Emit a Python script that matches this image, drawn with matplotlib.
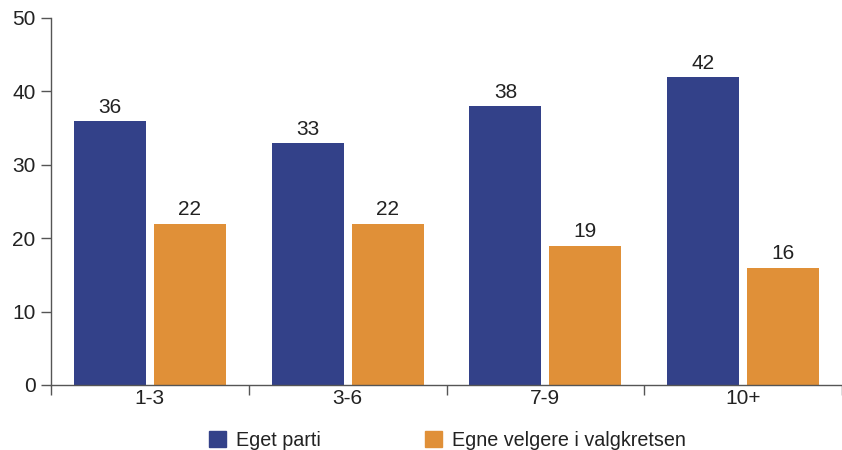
import numpy as np
import matplotlib.pyplot as plt
from matplotlib.patches import Patch

plt.rcParams['font.family'] = ['Liberation Sans', 'DejaVu Sans']

categories = ['1-3', '3-6', '7-9', '10+']
eget_parti = [36, 33, 38, 42]
egne_velgere = [22, 22, 19, 16]
series_names = ['Eget parti', 'Egne velgere i valgkretsen']

blue = '#334189'
orange = '#E09038'
txt = '#222222'
axc = '#555555'
fs = 15

fig = plt.figure(figsize=(8.42, 4.5), dpi=100)
ax = fig.add_axes([51 / 842, 1 - 385 / 450, 1 - 51 / 842, (385 - 18) / 450])

x = np.arange(len(categories))
w = 0.364
off = 0.202
b1 = ax.bar(x - off, eget_parti, w, color=blue)
b2 = ax.bar(x + off, egne_velgere, w, color=orange)

for bars, vals in [(b1, eget_parti), (b2, egne_velgere)]:
    for r, v in zip(bars, vals):
        ax.annotate(str(v), (r.get_x() + r.get_width() / 2, v), xytext=(0, 3),
                    textcoords='offset points', ha='center', va='bottom',
                    fontsize=fs, color=txt)

ax.set_xlim(-0.5, len(categories) - 0.5)
ax.set_ylim(0, 50)
ax.set_yticks(range(0, 51, 10))
ax.tick_params(axis='y', length=7, width=1, color=axc, labelsize=fs, labelcolor=txt, pad=4)

ax.set_xticks(np.arange(-0.5, len(categories), 1))
ax.set_xticklabels([])
ax.set_xticks(x, minor=True)
ax.set_xticklabels(categories, minor=True)
ax.tick_params(axis='x', which='major', length=7, width=1, color=axc, direction='out')
ax.tick_params(axis='x', which='minor', length=0, labelsize=fs, labelcolor=txt, pad=3)

for s in ['top', 'right']:
    ax.spines[s].set_visible(False)
ax.spines['left'].set_color(axc)
ax.spines['bottom'].set_color(axc)
ax.spines['left'].set_linewidth(1)
ax.spines['bottom'].set_linewidth(1)

handles = [Patch(color=blue), Patch(color=orange)]
fig.legend(handles, series_names, loc='center', bbox_to_anchor=(0.5315, 0.022),
           ncol=2, frameon=False, fontsize=14.2, handlelength=0.86, handleheight=0.86,
           handletextpad=0.51, columnspacing=5.3, labelcolor=txt, borderpad=0)

fig.savefig('out.png', dpi=100)
